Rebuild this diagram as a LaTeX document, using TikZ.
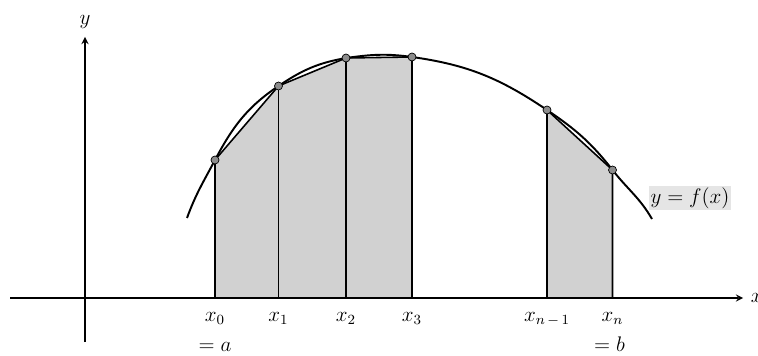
\documentclass[tikz,border=0pt]{standalone}
\usepackage{amsmath,amssymb}
\usepackage{xcolor}
\usetikzlibrary{arrows,positioning,calc}

\begin{document}
\begin{tikzpicture}[
      font=\large, >=stealth,
      axis/.style={line width=0.8pt},
      curve/.style={line width=1.1pt},
      side/.style={line width=0.9pt},
      strip/.style={fill=black!18},
      dot/.style={circle, draw, fill=black!45, line width=0.4pt,
                  inner sep=0pt, minimum size=1.6mm},
      lab/.style={anchor=base, inner sep=1pt}
    ]
    \useasboundingbox (0,0) rectangle (15.16,7.10);
    % axes
    \coordinate (xl) at (0.20,1.14);
    \coordinate (xr) at (14.86,1.14);
    \coordinate (yb) at (1.70,0.26);
    \coordinate (yt) at (1.70,6.36);
    % points on the curve
    \coordinate (cs) at (3.74,2.74);
    \coordinate (p0) at (4.30,3.90);
    \coordinate (p1) at (5.57,5.38);
    \coordinate (p2) at (6.92,5.94);
    \coordinate (p3) at (8.24,5.96);
    \coordinate (pm) at (10.94,4.90);
    \coordinate (pn) at (12.25,3.70);
    \coordinate (ce) at (13.04,2.72);
    % feet on the x axis
    \coordinate (a0) at (p0 |- xl);
    \coordinate (a1) at (p1 |- xl);
    \coordinate (a2) at (p2 |- xl);
    \coordinate (a3) at (p3 |- xl);
    \coordinate (am) at (pm |- xl);
    \coordinate (an) at (pn |- xl);
    % shaded trapezoids
    \fill[strip] (a0) -- (p0) -- (p1) -- (a1) -- cycle;
    \fill[strip] (a1) -- (p1) -- (p2) -- (a2) -- cycle;
    \fill[strip] (a2) -- (p2) -- (p3) -- (a3) -- cycle;
    \fill[strip] (am) -- (pm) -- (pn) -- (an) -- cycle;
    % axes
    \draw[axis,->] (xl) -- (xr);
    \draw[axis,->] (yb) -- (yt);
    \node (xlab) [right=1pt of xr] {$x$};
    \node (ylab) [above=1pt of yt] {$y$};
    % the curve
    \draw[curve] (cs) to[out=70,in=242] (p0) to[out=62,in=214] (p1)
      to[out=34,in=190] (p2) to[out=8,in=172] (p3)
      to[out=-8,in=146] (pm) to[out=-34,in=128] (pn)
      to[out=-52,in=120] (ce);
    % sides and chords
    \draw[side] (a0) -- (p0) -- (p1) -- (p2) -- (p3) -- (a3);
    \draw[side] (a1) -- (p1);
    \draw[side] (a2) -- (p2);
    \draw[side] (am) -- (pm) -- (pn) -- (an);
    \foreach \p in {p0,p1,p2,p3,pm,pn}
      \node[dot] at (\p) {};
    % labels
    \node[lab] (l0) at ($(a0)+(0,-0.46)$) {$x_0$};
    \node[lab] (l1) at ($(a1)+(0,-0.46)$) {$x_1$};
    \node[lab] (l2) at ($(a2)+(0,-0.46)$) {$x_2$};
    \node[lab] (l3) at ($(a3)+(0,-0.46)$) {$x_3$};
    \node[lab] (lm) at ($(am)+(0,-0.46)$) {$x_{n\,-\,1}$};
    \node[lab] (ln) at ($(an)+(0,-0.46)$) {$x_n$};
    \node[lab] (ea) at ($(a0)+(0,-1.06)$) {$= a$};
    \node[lab] (eb) at ($(an)+(-0.06,-1.06)$) {$= b$};
    \node[fill=black!10, inner sep=1pt] (fx) at (13.80,3.14) {$y = f(x)$};
  \end{tikzpicture}
\end{document}
